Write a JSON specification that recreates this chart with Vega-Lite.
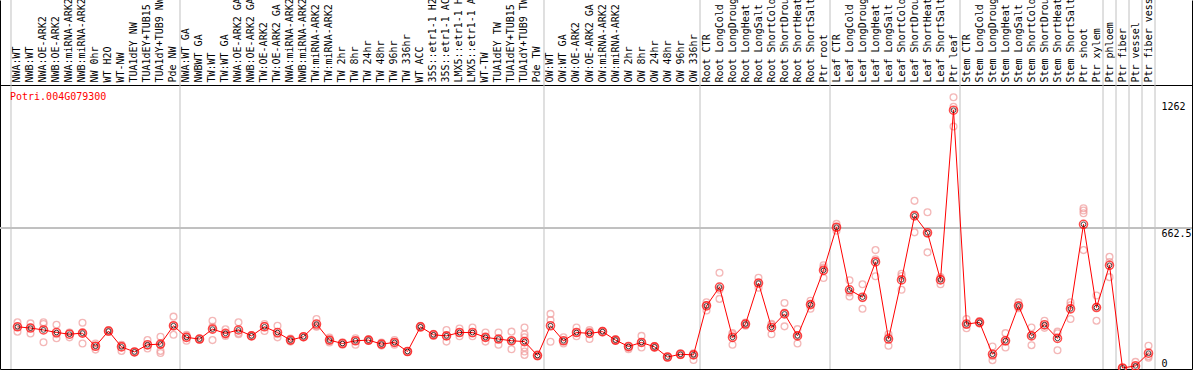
{
  "$schema": "https://vega.github.io/schema/vega-lite/v6.json",
  "width": 1192,
  "height": 369,
  "autosize": {"type": "none"},
  "padding": {"left": 0, "top": 0, "right": 2, "bottom": 1},
  "config": {"view": {"stroke": null}, "font": "DejaVu Sans Mono"},
  "datasets": {
    "means": [
      {"s": "NWA:WT", "v": 195}, {"s": "NWB:WT", "v": 189}, {"s": "NWA:OE-ARK2", "v": 180}, {"s": "NWB:OE-ARK2", "v": 168},
      {"s": "NWA:miRNA-ARK2", "v": 160}, {"s": "NWB:miRNA-ARK2", "v": 165}, {"s": "NW 0hr", "v": 103}, {"s": "WT H2O", "v": 175},
      {"s": "WT-NW", "v": 100}, {"s": "TUA1dEY NW", "v": 76}, {"s": "TUA1dEY+TUB15 NW", "v": 110}, {"s": "TUA1dY+TUB9 NW", "v": 113},
      {"s": "Pde NW", "v": 200}, {"s": "NWA:WT GA", "v": 145}, {"s": "NWBWT GA", "v": 137}, {"s": "TW:WT", "v": 184},
      {"s": "TW:WT GA", "v": 164}, {"s": "NWA:OE-ARK2 GA", "v": 180}, {"s": "NWB:OE-ARK2 GA", "v": 152}, {"s": "TW:OE-ARK2", "v": 195},
      {"s": "TW:OE-ARK2 GA", "v": 168}, {"s": "NWA:miRNA-ARK2 GA", "v": 132}, {"s": "NWB:miRNA-ARK2 GA", "v": 148}, {"s": "TW:miRNA-ARK2", "v": 208},
      {"s": "TW:miRNA-ARK2 GA", "v": 132}, {"s": "TW 2hr", "v": 116}, {"s": "TW 8hr", "v": 129}, {"s": "TW 24hr", "v": 132},
      {"s": "TW 48hr", "v": 113}, {"s": "TW 96hr", "v": 121}, {"s": "TW 336hr", "v": 78}, {"s": "WT ACC", "v": 195},
      {"s": "35S::etr1-1 H2O", "v": 157}, {"s": "35S::etr1-1 ACC", "v": 152}, {"s": "LMX5::etr1-1 H2O", "v": 168}, {"s": "LMX5::etr1-1 ACC", "v": 168},
      {"s": "WT-TW", "v": 145}, {"s": "TUA1dEY TW", "v": 137}, {"s": "TUA1dEY+TUB15 TW", "v": 129}, {"s": "TUA1dY+TUB9 TW", "v": 125},
      {"s": "Pde TW", "v": 59}, {"s": "OW:WT", "v": 200}, {"s": "OW:WT GA", "v": 129}, {"s": "OW:OE-ARK2", "v": 168},
      {"s": "OW:OE-ARK2 GA", "v": 164}, {"s": "OW:miRNA-ARK2", "v": 172}, {"s": "OW:miRNA-ARK2 GA", "v": 132}, {"s": "OW 2hr", "v": 102},
      {"s": "OW 8hr", "v": 121}, {"s": "OW 24hr", "v": 100}, {"s": "OW 48hr", "v": 52}, {"s": "OW 96hr", "v": 65},
      {"s": "OW 336hr", "v": 62}, {"s": "Root CTR", "v": 294}, {"s": "Root LongCold", "v": 383}, {"s": "Root LongDrought", "v": 145},
      {"s": "Root LongHeat", "v": 208}, {"s": "Root LongSalt", "v": 402}, {"s": "Root ShortCold", "v": 192}, {"s": "Root ShortDrought", "v": 256},
      {"s": "Root ShortHeat", "v": 152}, {"s": "Root ShortSalt", "v": 300}, {"s": "Ptr root", "v": 462}, {"s": "Leaf CTR", "v": 666},
      {"s": "Leaf LongCold", "v": 370}, {"s": "Leaf LongDrought", "v": 335}, {"s": "Leaf LongHeat", "v": 502}, {"s": "Leaf LongSalt", "v": 137},
      {"s": "Leaf ShortCold", "v": 417}, {"s": "Leaf ShortDrought", "v": 720}, {"s": "Leaf ShortHeat", "v": 640}, {"s": "Leaf ShortSalt", "v": 417},
      {"s": "Ptr leaf", "v": 1220}, {"s": "Stem CTR", "v": 208}, {"s": "Stem LongCold", "v": 216}, {"s": "Stem LongDrought", "v": 65},
      {"s": "Stem LongHeat", "v": 129}, {"s": "Stem LongSalt", "v": 294}, {"s": "Stem ShortCold", "v": 152}, {"s": "Stem ShortDrought", "v": 205},
      {"s": "Stem ShortHeat", "v": 140}, {"s": "Stem ShortSalt", "v": 280}, {"s": "Ptr shoot", "v": 680}, {"s": "Ptr xylem", "v": 286},
      {"s": "Ptr phloem", "v": 486}, {"s": "Ptr fiber", "v": 0}, {"s": "Ptr vessel", "v": 10}, {"s": "Ptr fiber vessel", "v": 70}
    ],
    "reps": [
      {"s": "NWA:WT", "v": 216}, {"s": "NWA:WT", "v": 172}, {"s": "NWA:WT", "v": 195},
      {"s": "NWB:WT", "v": 211}, {"s": "NWB:WT", "v": 163}, {"s": "NWB:WT", "v": 192},
      {"s": "NWA:OE-ARK2", "v": 216}, {"s": "NWA:OE-ARK2", "v": 208}, {"s": "NWA:OE-ARK2", "v": 122},
      {"s": "NWB:OE-ARK2", "v": 205}, {"s": "NWB:OE-ARK2", "v": 141}, {"s": "NWB:OE-ARK2", "v": 160},
      {"s": "NWA:miRNA-ARK2", "v": 168}, {"s": "NWA:miRNA-ARK2", "v": 145}, {"s": "NWA:miRNA-ARK2", "v": 167},
      {"s": "NWB:miRNA-ARK2", "v": 214}, {"s": "NWB:miRNA-ARK2", "v": 116}, {"s": "NWB:miRNA-ARK2", "v": 165},
      {"s": "NW 0hr", "v": 116}, {"s": "NW 0hr", "v": 87}, {"s": "NW 0hr", "v": 105},
      {"s": "WT H2O", "v": 180}, {"s": "WT H2O", "v": 170}, {"s": "WT H2O", "v": 175},
      {"s": "WT-NW", "v": 110}, {"s": "WT-NW", "v": 81}, {"s": "WT-NW", "v": 108},
      {"s": "TUA1dEY NW", "v": 76}, {"s": "TUA1dEY NW", "v": 78}, {"s": "TUA1dEY NW", "v": 74},
      {"s": "TUA1dEY+TUB15 NW", "v": 132}, {"s": "TUA1dEY+TUB15 NW", "v": 92}, {"s": "TUA1dEY+TUB15 NW", "v": 106},
      {"s": "TUA1dY+TUB9 NW", "v": 148}, {"s": "TUA1dY+TUB9 NW", "v": 110}, {"s": "TUA1dY+TUB9 NW", "v": 81}, {"s": "TUA1dY+TUB9 NW", "v": 71},
      {"s": "Pde NW", "v": 243}, {"s": "Pde NW", "v": 157}, {"s": "Pde NW", "v": 200},
      {"s": "NWA:WT GA", "v": 157}, {"s": "NWA:WT GA", "v": 129}, {"s": "NWA:WT GA", "v": 150},
      {"s": "NWBWT GA", "v": 137}, {"s": "NWBWT GA", "v": 140}, {"s": "NWBWT GA", "v": 134},
      {"s": "TW:WT", "v": 224}, {"s": "TW:WT", "v": 132}, {"s": "TW:WT", "v": 195},
      {"s": "TW:WT GA", "v": 183}, {"s": "TW:WT GA", "v": 152}, {"s": "TW:WT GA", "v": 158},
      {"s": "NWA:OE-ARK2 GA", "v": 216}, {"s": "NWA:OE-ARK2 GA", "v": 160}, {"s": "NWA:OE-ARK2 GA", "v": 165},
      {"s": "NWB:OE-ARK2 GA", "v": 152}, {"s": "NWB:OE-ARK2 GA", "v": 155}, {"s": "NWB:OE-ARK2 GA", "v": 150},
      {"s": "TW:OE-ARK2", "v": 208}, {"s": "TW:OE-ARK2", "v": 175}, {"s": "TW:OE-ARK2", "v": 200},
      {"s": "TW:OE-ARK2 GA", "v": 200}, {"s": "TW:OE-ARK2 GA", "v": 145}, {"s": "TW:OE-ARK2 GA", "v": 160},
      {"s": "NWA:miRNA-ARK2 GA", "v": 132}, {"s": "NWA:miRNA-ARK2 GA", "v": 140}, {"s": "NWA:miRNA-ARK2 GA", "v": 125},
      {"s": "NWB:miRNA-ARK2 GA", "v": 148}, {"s": "NWB:miRNA-ARK2 GA", "v": 150}, {"s": "NWB:miRNA-ARK2 GA", "v": 145},
      {"s": "TW:miRNA-ARK2", "v": 232}, {"s": "TW:miRNA-ARK2", "v": 195}, {"s": "TW:miRNA-ARK2", "v": 198},
      {"s": "TW:miRNA-ARK2 GA", "v": 132}, {"s": "TW:miRNA-ARK2 GA", "v": 121}, {"s": "TW:miRNA-ARK2 GA", "v": 144},
      {"s": "TW 2hr", "v": 116}, {"s": "TW 2hr", "v": 110}, {"s": "TW 2hr", "v": 122},
      {"s": "TW 8hr", "v": 129}, {"s": "TW 8hr", "v": 110}, {"s": "TW 8hr", "v": 141},
      {"s": "TW 24hr", "v": 132}, {"s": "TW 24hr", "v": 128}, {"s": "TW 24hr", "v": 136},
      {"s": "TW 48hr", "v": 113}, {"s": "TW 48hr", "v": 121}, {"s": "TW 48hr", "v": 106},
      {"s": "TW 96hr", "v": 121}, {"s": "TW 96hr", "v": 132}, {"s": "TW 96hr", "v": 110},
      {"s": "TW 336hr", "v": 78}, {"s": "TW 336hr", "v": 80}, {"s": "TW 336hr", "v": 76},
      {"s": "WT ACC", "v": 195}, {"s": "WT ACC", "v": 200}, {"s": "WT ACC", "v": 190},
      {"s": "35S::etr1-1 H2O", "v": 157}, {"s": "35S::etr1-1 H2O", "v": 162}, {"s": "35S::etr1-1 H2O", "v": 152},
      {"s": "35S::etr1-1 ACC", "v": 180}, {"s": "35S::etr1-1 ACC", "v": 125}, {"s": "35S::etr1-1 ACC", "v": 152},
      {"s": "LMX5::etr1-1 H2O", "v": 187}, {"s": "LMX5::etr1-1 H2O", "v": 168}, {"s": "LMX5::etr1-1 H2O", "v": 150},
      {"s": "LMX5::etr1-1 ACC", "v": 192}, {"s": "LMX5::etr1-1 ACC", "v": 163}, {"s": "LMX5::etr1-1 ACC", "v": 150},
      {"s": "WT-TW", "v": 168}, {"s": "WT-TW", "v": 125}, {"s": "WT-TW", "v": 145},
      {"s": "TUA1dEY TW", "v": 168}, {"s": "TUA1dEY TW", "v": 110}, {"s": "TUA1dEY TW", "v": 137},
      {"s": "TUA1dEY+TUB15 TW", "v": 172}, {"s": "TUA1dEY+TUB15 TW", "v": 89}, {"s": "TUA1dEY+TUB15 TW", "v": 129},
      {"s": "TUA1dY+TUB9 TW", "v": 192}, {"s": "TUA1dY+TUB9 TW", "v": 160}, {"s": "TUA1dY+TUB9 TW", "v": 145},
      {"s": "TUA1dY+TUB9 TW", "v": 97}, {"s": "TUA1dY+TUB9 TW", "v": 78}, {"s": "TUA1dY+TUB9 TW", "v": 62},
      {"s": "Pde TW", "v": 59}, {"s": "Pde TW", "v": 65}, {"s": "Pde TW", "v": 55},
      {"s": "OW:WT", "v": 256}, {"s": "OW:WT", "v": 227}, {"s": "OW:WT", "v": 124},
      {"s": "OW:WT GA", "v": 129}, {"s": "OW:WT GA", "v": 145}, {"s": "OW:WT GA", "v": 116},
      {"s": "OW:OE-ARK2", "v": 192}, {"s": "OW:OE-ARK2", "v": 150}, {"s": "OW:OE-ARK2", "v": 168},
      {"s": "OW:OE-ARK2 GA", "v": 180}, {"s": "OW:OE-ARK2 GA", "v": 137}, {"s": "OW:OE-ARK2 GA", "v": 172},
      {"s": "OW:miRNA-ARK2", "v": 172}, {"s": "OW:miRNA-ARK2", "v": 176}, {"s": "OW:miRNA-ARK2", "v": 168},
      {"s": "OW:miRNA-ARK2 GA", "v": 132}, {"s": "OW:miRNA-ARK2 GA", "v": 128}, {"s": "OW:miRNA-ARK2 GA", "v": 136},
      {"s": "OW 2hr", "v": 102}, {"s": "OW 2hr", "v": 95}, {"s": "OW 2hr", "v": 89},
      {"s": "OW 8hr", "v": 152}, {"s": "OW 8hr", "v": 97}, {"s": "OW 8hr", "v": 121},
      {"s": "OW 24hr", "v": 100}, {"s": "OW 24hr", "v": 104}, {"s": "OW 24hr", "v": 96},
      {"s": "OW 48hr", "v": 52}, {"s": "OW 48hr", "v": 54}, {"s": "OW 48hr", "v": 50},
      {"s": "OW 96hr", "v": 65}, {"s": "OW 96hr", "v": 70}, {"s": "OW 96hr", "v": 60},
      {"s": "OW 336hr", "v": 62}, {"s": "OW 336hr", "v": 70}, {"s": "OW 336hr", "v": 38},
      {"s": "Root CTR", "v": 311}, {"s": "Root CTR", "v": 272}, {"s": "Root CTR", "v": 298},
      {"s": "Root LongCold", "v": 451}, {"s": "Root LongCold", "v": 327}, {"s": "Root LongCold", "v": 370},
      {"s": "Root LongDrought", "v": 165}, {"s": "Root LongDrought", "v": 110}, {"s": "Root LongDrought", "v": 160},
      {"s": "Root LongHeat", "v": 208}, {"s": "Root LongHeat", "v": 200}, {"s": "Root LongHeat", "v": 215},
      {"s": "Root LongSalt", "v": 427}, {"s": "Root LongSalt", "v": 402}, {"s": "Root LongSalt", "v": 380},
      {"s": "Root ShortCold", "v": 209}, {"s": "Root ShortCold", "v": 160}, {"s": "Root ShortCold", "v": 205},
      {"s": "Root ShortDrought", "v": 308}, {"s": "Root ShortDrought", "v": 197}, {"s": "Root ShortDrought", "v": 262},
      {"s": "Root ShortHeat", "v": 184}, {"s": "Root ShortHeat", "v": 116}, {"s": "Root ShortHeat", "v": 155},
      {"s": "Root ShortSalt", "v": 318}, {"s": "Root ShortSalt", "v": 280}, {"s": "Root ShortSalt", "v": 302},
      {"s": "Ptr root", "v": 486}, {"s": "Ptr root", "v": 426}, {"s": "Ptr root", "v": 475},
      {"s": "Leaf CTR", "v": 682}, {"s": "Leaf CTR", "v": 666}, {"s": "Leaf CTR", "v": 650},
      {"s": "Leaf LongCold", "v": 415}, {"s": "Leaf LongCold", "v": 338}, {"s": "Leaf LongCold", "v": 357},
      {"s": "Leaf LongDrought", "v": 396}, {"s": "Leaf LongDrought", "v": 280}, {"s": "Leaf LongDrought", "v": 330},
      {"s": "Leaf LongHeat", "v": 558}, {"s": "Leaf LongHeat", "v": 434}, {"s": "Leaf LongHeat", "v": 515},
      {"s": "Leaf LongSalt", "v": 160}, {"s": "Leaf LongSalt", "v": 105}, {"s": "Leaf LongSalt", "v": 146},
      {"s": "Leaf ShortCold", "v": 446}, {"s": "Leaf ShortCold", "v": 370}, {"s": "Leaf ShortCold", "v": 435},
      {"s": "Leaf ShortDrought", "v": 791}, {"s": "Leaf ShortDrought", "v": 642}, {"s": "Leaf ShortDrought", "v": 727},
      {"s": "Leaf ShortHeat", "v": 737}, {"s": "Leaf ShortHeat", "v": 547}, {"s": "Leaf ShortHeat", "v": 636},
      {"s": "Leaf ShortSalt", "v": 425}, {"s": "Leaf ShortSalt", "v": 396}, {"s": "Leaf ShortSalt", "v": 430},
      {"s": "Ptr leaf", "v": 1281}, {"s": "Ptr leaf", "v": 1143}, {"s": "Ptr leaf", "v": 1236},
      {"s": "Stem CTR", "v": 232}, {"s": "Stem CTR", "v": 188}, {"s": "Stem CTR", "v": 204},
      {"s": "Stem LongCold", "v": 216}, {"s": "Stem LongCold", "v": 222}, {"s": "Stem LongCold", "v": 210},
      {"s": "Stem LongDrought", "v": 102}, {"s": "Stem LongDrought", "v": 37}, {"s": "Stem LongDrought", "v": 56},
      {"s": "Stem LongHeat", "v": 165}, {"s": "Stem LongHeat", "v": 97}, {"s": "Stem LongHeat", "v": 125},
      {"s": "Stem LongSalt", "v": 311}, {"s": "Stem LongSalt", "v": 294}, {"s": "Stem LongSalt", "v": 283},
      {"s": "Stem ShortCold", "v": 192}, {"s": "Stem ShortCold", "v": 108}, {"s": "Stem ShortCold", "v": 156},
      {"s": "Stem ShortDrought", "v": 224}, {"s": "Stem ShortDrought", "v": 190}, {"s": "Stem ShortDrought", "v": 200},
      {"s": "Stem ShortHeat", "v": 172}, {"s": "Stem ShortHeat", "v": 84}, {"s": "Stem ShortHeat", "v": 164},
      {"s": "Stem ShortSalt", "v": 311}, {"s": "Stem ShortSalt", "v": 232}, {"s": "Stem ShortSalt", "v": 297},
      {"s": "Ptr shoot", "v": 756}, {"s": "Ptr shoot", "v": 745}, {"s": "Ptr shoot", "v": 732}, {"s": "Ptr shoot", "v": 558},
      {"s": "Ptr xylem", "v": 343}, {"s": "Ptr xylem", "v": 224}, {"s": "Ptr xylem", "v": 290},
      {"s": "Ptr phloem", "v": 526}, {"s": "Ptr phloem", "v": 502}, {"s": "Ptr phloem", "v": 430},
      {"s": "Ptr fiber", "v": 0}, {"s": "Ptr fiber", "v": 0}, {"s": "Ptr fiber", "v": 0},
      {"s": "Ptr vessel", "v": 29}, {"s": "Ptr vessel", "v": 5}, {"s": "Ptr vessel", "v": 0},
      {"s": "Ptr fiber vessel", "v": 105}, {"s": "Ptr fiber vessel", "v": 56}, {"s": "Ptr fiber vessel", "v": 49}
    ],
    "gridAfter": [
      {"s": "Pde NW"}, {"s": "Pde TW"}, {"s": "OW 336hr"}, {"s": "Ptr root"}, {"s": "Ptr leaf"},
      {"s": "Ptr xylem"}, {"s": "Ptr phloem"}, {"s": "Ptr fiber"}, {"s": "Ptr vessel"}, {"s": "Ptr fiber vessel"}
    ],
    "gridBefore": [{"s": "NWA:WT"}]
  },
  "layer": [
    {
      "data": {"name": "gridAfter"},
      "mark": {"type": "rule", "color": "#c0c0c0", "strokeWidth": 1},
      "encoding": {
        "x": {"field": "s", "type": "nominal", "bandPosition": 1, "axis": null,
          "scale": {"type": "band", "paddingInner": 0, "paddingOuter": 0.846, "align": 0.5,
            "domain": ["NWA:WT", "NWB:WT", "NWA:OE-ARK2", "NWB:OE-ARK2", "NWA:miRNA-ARK2", "NWB:miRNA-ARK2", "NW 0hr", "WT H2O", "WT-NW", "TUA1dEY NW", "TUA1dEY+TUB15 NW", "TUA1dY+TUB9 NW", "Pde NW", "NWA:WT GA", "NWBWT GA", "TW:WT", "TW:WT GA", "NWA:OE-ARK2 GA", "NWB:OE-ARK2 GA", "TW:OE-ARK2", "TW:OE-ARK2 GA", "NWA:miRNA-ARK2 GA", "NWB:miRNA-ARK2 GA", "TW:miRNA-ARK2", "TW:miRNA-ARK2 GA", "TW 2hr", "TW 8hr", "TW 24hr", "TW 48hr", "TW 96hr", "TW 336hr", "WT ACC", "35S::etr1-1 H2O", "35S::etr1-1 ACC", "LMX5::etr1-1 H2O", "LMX5::etr1-1 ACC", "WT-TW", "TUA1dEY TW", "TUA1dEY+TUB15 TW", "TUA1dY+TUB9 TW", "Pde TW", "OW:WT", "OW:WT GA", "OW:OE-ARK2", "OW:OE-ARK2 GA", "OW:miRNA-ARK2", "OW:miRNA-ARK2 GA", "OW 2hr", "OW 8hr", "OW 24hr", "OW 48hr", "OW 96hr", "OW 336hr", "Root CTR", "Root LongCold", "Root LongDrought", "Root LongHeat", "Root LongSalt", "Root ShortCold", "Root ShortDrought", "Root ShortHeat", "Root ShortSalt", "Ptr root", "Leaf CTR", "Leaf LongCold", "Leaf LongDrought", "Leaf LongHeat", "Leaf LongSalt", "Leaf ShortCold", "Leaf ShortDrought", "Leaf ShortHeat", "Leaf ShortSalt", "Ptr leaf", "Stem CTR", "Stem LongCold", "Stem LongDrought", "Stem LongHeat", "Stem LongSalt", "Stem ShortCold", "Stem ShortDrought", "Stem ShortHeat", "Stem ShortSalt", "Ptr shoot", "Ptr xylem", "Ptr phloem", "Ptr fiber", "Ptr vessel", "Ptr fiber vessel", " ", "  "]}}
      }
    },
    {
      "data": {"name": "gridBefore"},
      "mark": {"type": "rule", "color": "#c0c0c0", "strokeWidth": 1},
      "encoding": {
        "x": {"field": "s", "type": "nominal", "bandPosition": 0, "axis": null}
      }
    },
    {
      "data": {"name": "means"},
      "mark": {"type": "rule", "color": "#c0c0c0", "strokeWidth": 1},
      "encoding": {
        "y": {"datum": 662.5, "type": "quantitative", "axis": null,
          "scale": {"domain": [-4.73, 1741.5], "nice": false, "zero": false}}
      }
    },
    {
      "data": {"name": "reps"},
      "mark": {"type": "point", "shape": "circle", "filled": false, "size": 46, "stroke": "#f09a9a", "strokeWidth": 1.3},
      "encoding": {
        "x": {"field": "s", "type": "nominal",
          "axis": {"orient": "top", "offset": -85, "title": null, "domain": true, "domainColor": "#000000", "domainWidth": 1,
            "ticks": false, "grid": false, "labelAngle": 270, "labelAlign": "left", "labelBaseline": "middle",
            "labelPadding": 3, "labelFont": "DejaVu Sans Mono", "labelFontSize": 10, "labelColor": "#000000",
            "labelOverlap": false, "labelLimit": 0}},
        "y": {"field": "v", "type": "quantitative",
          "axis": {"orient": "left", "title": null, "domain": true, "domainColor": "#000000", "ticks": false, "labels": false, "grid": false}}
      }
    },
    {
      "data": {"name": "means"},
      "mark": {"type": "line", "color": "#ff0000", "strokeWidth": 1},
      "encoding": {
        "x": {"field": "s", "type": "nominal",
          "axis": {"orient": "bottom", "title": null, "domain": true, "domainColor": "#000000", "ticks": false, "labels": false, "grid": false}},
        "y": {"field": "v", "type": "quantitative",
          "axis": {"orient": "right", "title": null, "values": [0, 662.5, 1262], "labelExpr": "'' + datum.value", "domain": true, "domainColor": "#000000",
            "ticks": false, "tickSize": 0, "grid": false, "labelPadding": -31, "labelAlign": "left",
            "labelBaseline": {"condition": {"test": "datum.value === 0", "value": "bottom"}, "value": "top"},
            "labelFont": "DejaVu Sans Mono", "labelFontSize": 10, "labelColor": "#000000", "labelFlush": false, "labelOverlap": false}}
      }
    },
    {
      "data": {"name": "means"},
      "mark": {"type": "point", "shape": "circle", "filled": false, "size": 64, "stroke": "#ff0000", "strokeWidth": 1.6},
      "encoding": {
        "x": {"field": "s", "type": "nominal", "axis": null},
        "y": {"field": "v", "type": "quantitative", "axis": null}
      }
    },
    {
      "data": {"name": "means"},
      "mark": {"type": "point", "shape": "circle", "filled": false, "size": 22, "stroke": "#000000", "strokeWidth": 1},
      "encoding": {
        "x": {"field": "s", "type": "nominal", "axis": null},
        "y": {"field": "v", "type": "quantitative", "axis": null}
      }
    },
    {
      "data": {"values": [{"label": "Potri.004G079300"}]},
      "mark": {"type": "text", "color": "#ff0000", "font": "DejaVu Sans Mono", "fontSize": 10, "align": "left", "baseline": "middle", "dx": -1},
      "encoding": {
        "text": {"field": "label"},
        "x": {"datum": "NWA:WT", "type": "nominal", "bandPosition": 0, "axis": null},
        "y": {"datum": 1282, "type": "quantitative", "axis": null}
      }
    }
  ],
  "resolve": {"axis": {"x": "independent", "y": "independent"}}
}
